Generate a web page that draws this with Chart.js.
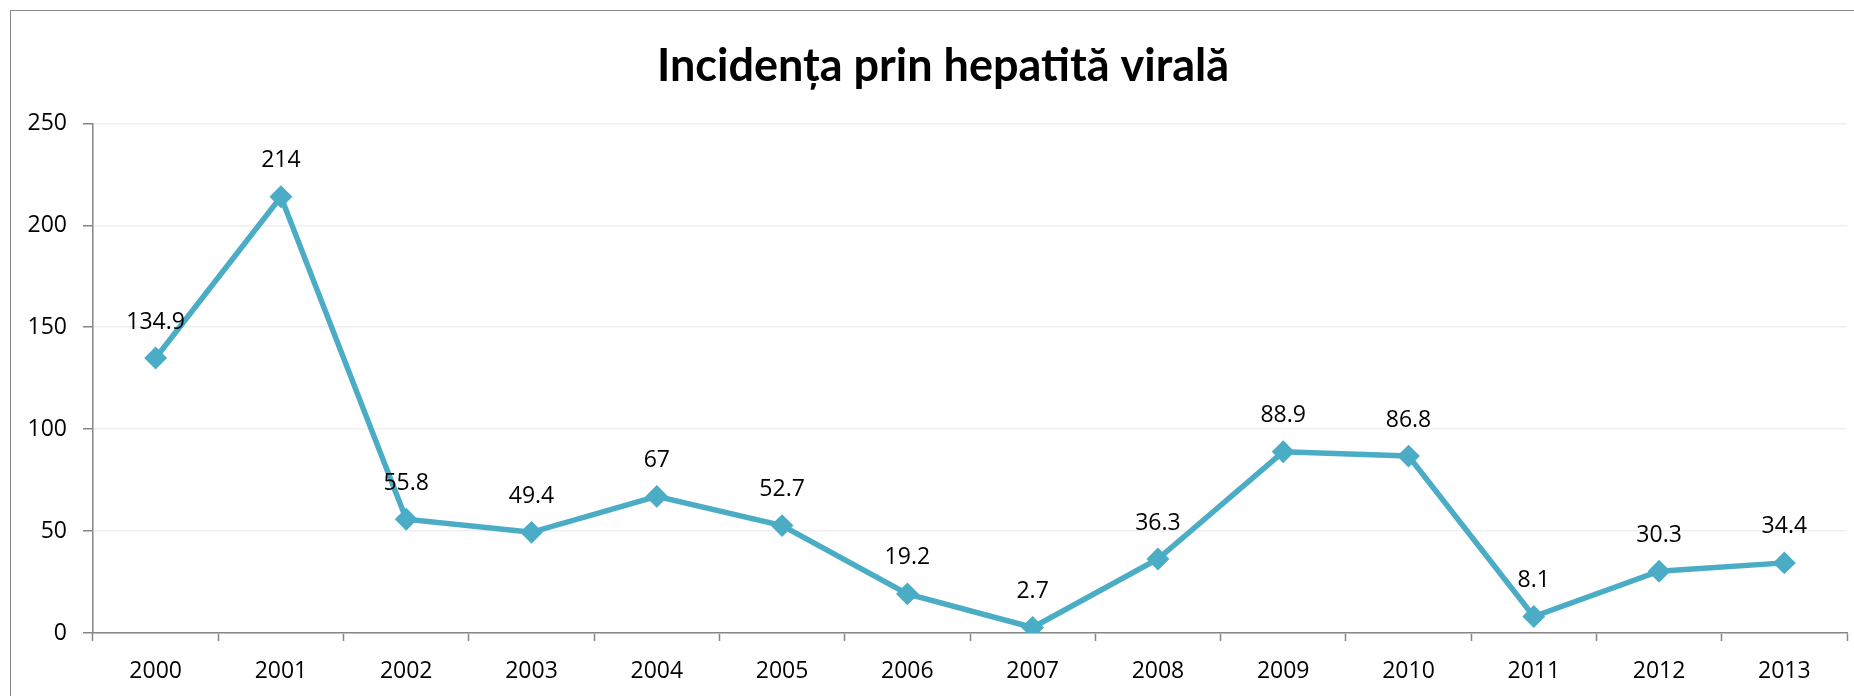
<!DOCTYPE html>
<html>
<head>
<meta charset="utf-8">
<title>Incidența prin hepatită virală</title>
<script src="https://cdn.jsdelivr.net/npm/chart.js@4/dist/chart.umd.min.js"></script>
<style>
  html, body { margin: 0; padding: 0; background: #fff; overflow: hidden; }
  #box {
    position: absolute; left: 10px; top: 10px;
    width: 1890px; height: 720px;
    border: 1px solid #888888;
  }
  #chart { display: block; }
</style>
</head>
<body>
<div id="box"><canvas id="chart" width="1890" height="700"></canvas></div>
<script>
// Valorile
const titlu = 'Incidența prin hepatită virală';
const ani = ['2000', '2001', '2002', '2003', '2004', '2005', '2006', '2007', '2008', '2009', '2010', '2011', '2012', '2013'];
const incidenta = [134.9, 214, 55.8, 49.4, 67, 52.7, 19.2, 2.7, 36.3, 88.9, 86.8, 8.1, 30.3, 34.4];
const yTicks = [0, 50, 100, 150, 200, 250];

const culoare = '#4BACC6';
const gri = '#868686';
const fontText = "'Open Sans', 'Noto Sans', sans-serif";

// Titlul: centrat pe tot cadrul graficului (care iese din imagine in dreapta)
const titluGrafic = {
    id: 'titluGrafic',
    afterDraw(chart) {
        const ctx = chart.ctx;
        ctx.save();
        ctx.font = "bold 45px Lato, 'Open Sans', sans-serif";
        ctx.fillStyle = '#000';
        ctx.textAlign = 'center';
        ctx.textBaseline = 'middle';
        ctx.fillText(titlu, 932, 55);
        ctx.restore();
    }
};

// Etichete de date deasupra punctelor
const eticheteDate = {
    id: 'eticheteDate',
    afterDatasetsDraw(chart) {
        const ctx = chart.ctx;
        const meta = chart.getDatasetMeta(0);
        ctx.save();
        ctx.font = "23px " + fontText;
        ctx.fillStyle = '#000';
        ctx.textAlign = 'center';
        ctx.textBaseline = 'middle';
        meta.data.forEach((pt, i) => {
            ctx.fillText(String(incidenta[i]), pt.x, pt.y - 36);
        });
        ctx.restore();
    }
};

const ctx = document.getElementById('chart').getContext('2d');
const chart = new Chart(ctx, {
    type: 'line',
    data: {
        labels: ani,
        datasets: [{
            label: 'Incidența',
            data: incidenta,
            borderColor: culoare,
            backgroundColor: culoare,
            borderWidth: 5.5,
            tension: 0,
            pointStyle: 'rectRot',
            pointRadius: 10,
            pointBorderWidth: 2,
            pointBackgroundColor: culoare,
            pointBorderColor: culoare,
            fill: false
        }]
    },
    options: {
        responsive: false,
        animation: false,
        layout: { padding: { right: 54, left: 0, top: 112.4, bottom: 0 } },
        plugins: {
            legend: { display: false },
            tooltip: { enabled: false },
            title: { display: false }
        },
        scales: {
            x: {
                offset: true,
                grid: {
                    offset: true,
                    drawOnChartArea: false,
                    drawTicks: true,
                    tickLength: 8,
                    tickColor: gri,
                    tickWidth: 1.5
                },
                border: { color: gri, width: 1.5 },
                ticks: {
                    color: '#000',
                    font: { family: fontText, size: 23 },
                    padding: 17,
                    maxRotation: 0
                },
                afterFit(scale) { scale.height = 78; }
            },
            y: {
                min: 0,
                max: 250,
                afterBuildTicks(scale) { scale.ticks = yTicks.map(v => ({ value: v })); },
                grid: {
                    color: '#EFEFEF',
                    lineWidth: 1.5,
                    drawTicks: true,
                    tickLength: 10,
                    tickColor: gri,
                    tickWidth: 1.5
                },
                border: { color: gri, width: 1.5 },
                ticks: {
                    color: '#000',
                    font: { family: fontText, size: 23 },
                    padding: 16
                },
                afterFit(scale) { scale.width = 82; }
            }
        }
    },
    plugins: [eticheteDate, titluGrafic]
});
</script>
</body>
</html>
